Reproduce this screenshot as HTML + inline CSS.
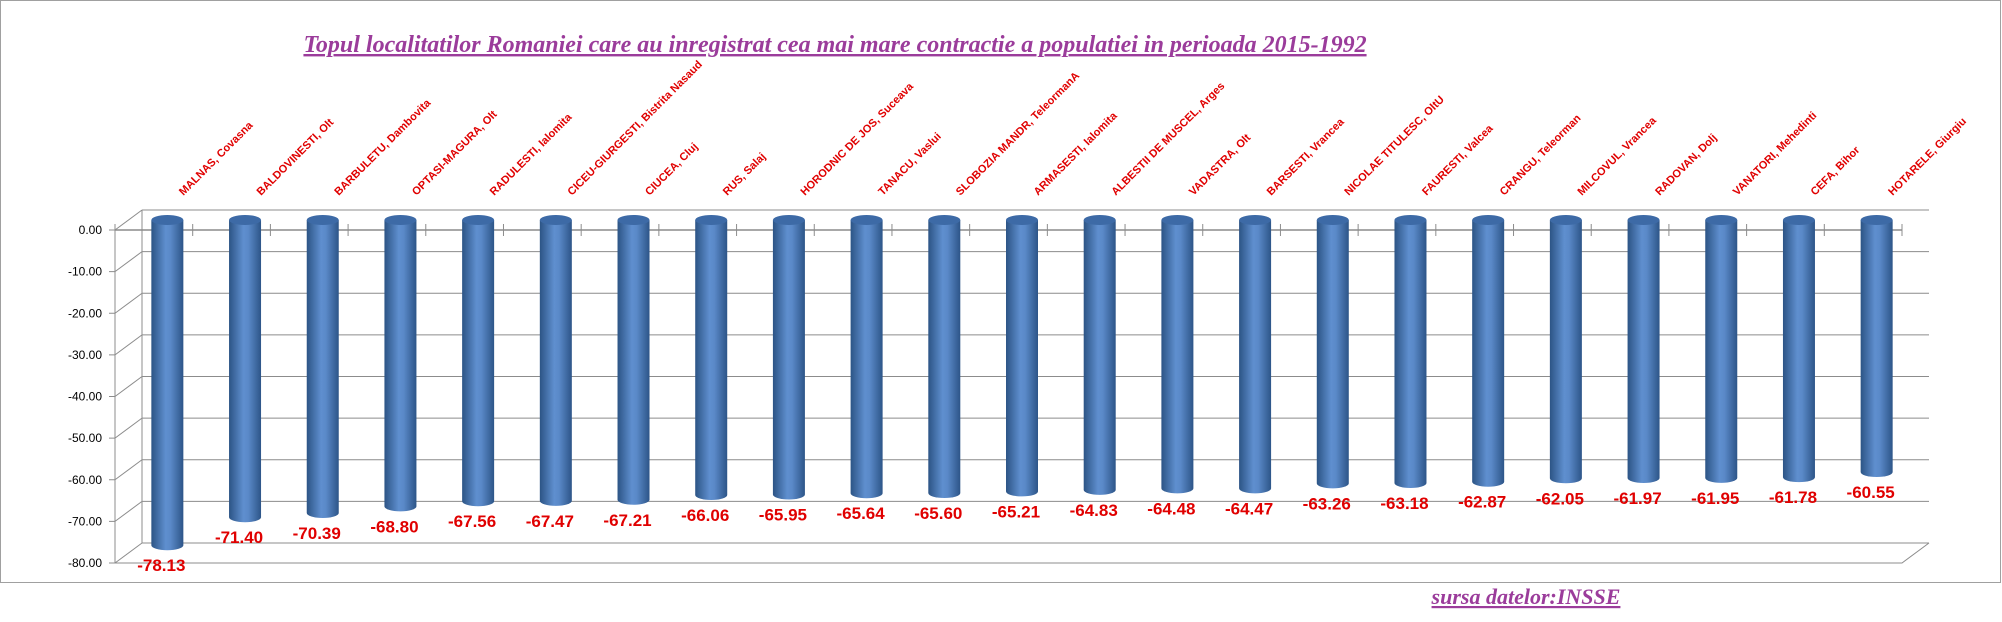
<!DOCTYPE html>
<html><head><meta charset="utf-8"><style>
body{margin:0;background:#fff;}
svg{display:block;font-family:"Liberation Sans",sans-serif;}
</style></head><body>
<svg id="chart" width="2002" height="622" viewBox="0 0 2002 622">
<defs>
<linearGradient id="cyl" x1="0" x2="1" y1="0" y2="0">
<stop offset="0" stop-color="#2c5485"/><stop offset="0.45" stop-color="#5f8fcf"/><stop offset="0.6" stop-color="#5a89c8"/><stop offset="1" stop-color="#2d5588"/>
</linearGradient>
</defs>
<rect x="0.5" y="0.5" width="2000" height="582" fill="#fff" stroke="#a0a0a0"/>
<text x="835" y="52" text-anchor="middle" font-family="Liberation Serif,serif" font-style="italic" font-weight="bold" font-size="24" fill="#9b3c9b" text-decoration="underline">Topul localitatilor Romaniei care au inregistrat cea mai mare contractie a populatiei in perioada 2015-1992</text>
<text x="1526" y="604" text-anchor="middle" font-family="Liberation Serif,serif" font-style="italic" font-weight="bold" font-size="22" fill="#9b3c9b" text-decoration="underline">sursa datelor:INSSE</text>
<g id="grid"></g><g id="bars"></g><g id="labels"></g>
</svg>
<script>
const categories=["MALNAS, Covasna","BALDOVINESTI, Olt","BARBULETU, Dambovita","OPTASI-MAGURA, Olt","RADULESTI, Ialomita","CICEU-GIURGESTI, Bistrita Nasaud","CIUCEA, Cluj","RUS, Salaj","HORODNIC DE JOS, Suceava","TANACU, Vaslui","SLOBOZIA MANDR, TeleormanA","ARMASESTI, Ialomita","ALBESTII DE MUSCEL, Arges","VADASTRA, Olt","BARSESTI, Vrancea","NICOLAE TITULESC, OltU","FAURESTI, Valcea","CRANGU, Teleorman","MILCOVUL, Vrancea","RADOVAN, Dolj","VANATORI, Mehedinti","CEFA, Bihor","HOTARELE, Giurgiu"];
const values=[-78.13,-71.40,-70.39,-68.80,-67.56,-67.47,-67.21,-66.06,-65.95,-65.64,-65.60,-65.21,-64.83,-64.48,-64.47,-63.26,-63.18,-62.87,-62.05,-61.97,-61.95,-61.78,-60.55];
const yTicks=[0,-10,-20,-30,-40,-50,-60,-70,-80];
const NS="http://www.w3.org/2000/svg";
const X0=115,X1=1902,Y0=230,PX=4.1625,DX=27,DY=-20;
const bw=(X1-X0)/categories.length;
const y=v=>Y0-v*PX;
const xc=i=>X0+(i+0.5)*bw;
function mk(t,a,p){const e=document.createElementNS(NS,t);for(const k in a)e.setAttribute(k,a[k]);p.appendChild(e);return e;}
const grid=document.getElementById('grid'),bars=document.getElementById('bars'),labels=document.getElementById('labels');
const gc="#8c8c8c";
mk('line',{x1:X0+DX,y1:y(0)+DY,x2:X0+DX,y2:y(-80)+DY,stroke:gc},grid);
mk('line',{x1:X0,y1:y(0),x2:X0,y2:y(-80),stroke:gc},grid);
yTicks.forEach(t=>{
 const yy=y(t);
 const g=mk('g',{},grid);
 
 
 mk('line',{x1:X0,y1:yy,x2:X0+DX,y2:yy+DY,stroke:gc},g);
 mk('line',{x1:X0+DX,y1:yy+DY,x2:X1+DX,y2:yy+DY,stroke:gc},g);
 mk('line',{x1:X0-6,y1:yy,x2:X0,y2:yy,stroke:gc},g);
 const tx=mk('text',{x:X0-13,y:yy+4,'text-anchor':'end','font-size':12,fill:'#000'},grid);
 tx.textContent=t.toFixed(2);
 
 
});
mk('path',{d:`M${X0},${y(-80)} L${X1},${y(-80)} L${X1+DX},${y(-80)+DY}`,fill:'none',stroke:gc},grid);
mk('line',{x1:X0,y1:y(0),x2:X1,y2:y(0),stroke:gc,'stroke-width':1.5},grid);
for(let i=0;i<=categories.length;i++){mk('line',{x1:X0+i*bw,y1:y(0)-6,x2:X0+i*bw,y2:y(0)+6,stroke:gc},grid);}
values.forEach((v,i)=>{
 const cx=xc(i)+DX/2,r=16,ry=5,top=y(0)+DY/2,bot=y(v)+DY/2;
 const g=mk('g',{},bars);
 
 
 mk('path',{d:`M${cx-r},${top} L${cx-r},${bot} A${r},${ry} 0 0 0 ${cx+r},${bot} L${cx+r},${top} Z`,fill:'url(#cyl)'},g);
 mk('ellipse',{cx:cx,cy:top,rx:r,ry:ry,fill:'#3d6aa6'},g);
 const vl=mk('text',{x:cx-6,y:bot+26,'text-anchor':'middle','font-size':17,'font-weight':'bold',fill:'#e00000'},labels);
 vl.textContent=v.toFixed(2);
 
 
 const cl=mk('text',{x:0,y:0,'font-size':11,'font-weight':'bold',fill:'#e00000',transform:`translate(${cx+16},196) rotate(-45)`},labels);
 cl.textContent=categories[i];
 
 
});
</script>
</body></html>
